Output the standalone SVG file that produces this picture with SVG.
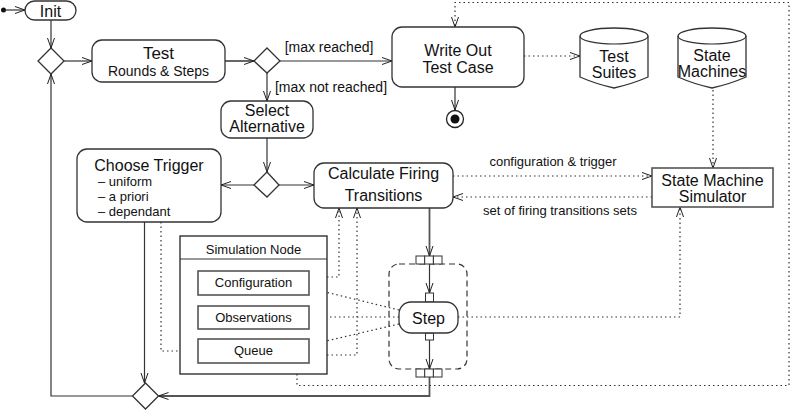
<svg xmlns="http://www.w3.org/2000/svg" width="790" height="411" viewBox="0 0 790 411">
<defs>
<style>
text{font-family:"Liberation Sans",Arial,sans-serif;fill:#111;text-anchor:middle}
.n{fill:#fff;stroke:#333;stroke-width:1.3}
.b{fill:#fff;stroke:#555;stroke-width:1.6}
.f{fill:none;stroke:#333;stroke-width:1.2}
.t{fill:none;stroke:#555;stroke-width:1.8}
.d{fill:none;stroke:#333;stroke-width:1.2;stroke-dasharray:1.5 3}
.dash{fill:none;stroke:#333;stroke-width:1.2;stroke-dasharray:6 4}
.l{font-size:16px}
.s{font-size:13px}
.m{font-size:14px}
</style>
<marker id="a" markerWidth="12" markerHeight="10" refX="10" refY="4" orient="auto" markerUnits="userSpaceOnUse"><path d="M0,0.5 L10,4 L0,7.5" fill="none" stroke="#222" stroke-width="1"/></marker>
</defs>

<g id="connectors">
<circle cx="3.5" cy="10" r="2.5" fill="#111"/>
<path class="f" d="M5,10 H25" marker-end="url(#a)"/>
<path class="f" d="M51,20 V48" marker-end="url(#a)"/>
<path class="f" d="M64,61 H92" marker-end="url(#a)"/>
<path class="t" d="M225,61 H254" marker-end="url(#a)"/>
<path class="f" d="M280,61 H392" marker-end="url(#a)"/>
<text class="m" x="329" y="52">[max reached]</text>
<path class="f" d="M267,73 V101" marker-end="url(#a)"/>
<text class="m" x="331" y="92">[max not reached]</text>
<path class="f" d="M455,87 V110" marker-end="url(#a)"/>
<path class="d" d="M524,56 H580" marker-end="url(#a)"/>
<path class="d" d="M713,90 V168" marker-end="url(#a)"/>
<path class="f" d="M267,138 V172" marker-end="url(#a)"/>
<path class="f" d="M254,185 H221" marker-end="url(#a)"/>
<path class="f" d="M279,185 H314" marker-end="url(#a)"/>
<path class="d" d="M453,176 H652" marker-end="url(#a)"/>
<text class="s" x="553" y="166">configuration &amp; trigger</text>
<path class="d" d="M652,197 H453" marker-end="url(#a)"/>
<text class="s" x="560" y="215">set of firing transitions sets</text>
<path class="t" d="M429.5,208 V256" marker-end="url(#a)"/>
<path class="f" d="M429.5,264 V293" marker-end="url(#a)"/>
<path class="f" d="M429.5,340 V369" marker-end="url(#a)"/>
<path class="t" d="M429.5,377 V396 H158.5" marker-end="url(#a)"/>
<path class="f" d="M132.5,396 H51 V74" marker-end="url(#a)"/>
<path class="f" d="M144.5,222 V383" marker-end="url(#a)"/>
<path class="d" d="M161,222 V351 H198" marker-end="url(#a)"/>
<path class="d" d="M309,277 H339 V208" marker-end="url(#a)"/>
<path class="d" d="M309,355 H357 V208" marker-end="url(#a)"/>
<path class="d" d="M399,310 L309,288" marker-end="url(#a)"/>
<path class="d" d="M399,317 H309" marker-end="url(#a)"/>
<path class="d" d="M399,324 L309,345" marker-end="url(#a)"/>
<path class="d" d="M458,317 H680 V207" marker-end="url(#a)"/>
<path class="d" d="M297,329 V385.5 H789 V2.5 H455 V27" marker-end="url(#a)"/>
</g>

<g id="init"><rect class="n" x="25" y="1" width="51" height="19" rx="9.5"/><text class="l" x="50.5" y="17">Init</text></g>
<g id="d1"><polygon class="n" points="51,48 64,61 51,74 38,61"/></g>
<g id="test"><rect class="n" x="92" y="40" width="133" height="42" rx="10"/><text x="158.5" y="59" style="font-size:17px">Test</text><text class="m" x="158.5" y="76">Rounds &amp; Steps</text></g>
<g id="d2"><polygon class="n" points="267,48 280,61 267,73 254,61"/></g>
<g id="writeout"><rect class="n" x="392" y="27" width="132" height="60" rx="10"/><text class="l" x="458" y="56">Write Out</text><text class="l" x="458" y="73">Test Case</text></g>
<g id="final"><circle cx="455" cy="119" r="8.5" fill="#fff" stroke="#222" stroke-width="1.3"/><circle cx="455" cy="119" r="4.5" fill="#111"/></g>
<g id="testsuites"><path class="n" d="M580,36 A34,8 0 0 1 648,36 V77 Q632,84 614,88 Q596,84 580,77 Z"/><path class="f" d="M580,36 A34,8 0 0 0 648,36"/><text class="l" x="614" y="62">Test</text><text class="l" x="614" y="78">Suites</text></g>
<g id="statemachines"><path class="n" d="M678,36 A34,8 0 0 1 746,36 V77 Q730,84 712,88 Q694,84 678,77 Z"/><path class="f" d="M678,36 A34,8 0 0 0 746,36"/><text class="l" x="712" y="61">State</text><text class="l" x="712" y="77">Machines</text></g>
<g id="select"><rect class="n" x="221" y="101" width="92" height="37" rx="10"/><text class="l" x="267" y="116">Select</text><text class="l" x="267" y="132">Alternative</text></g>
<g id="d3"><polygon class="n" points="267,172 279,185 267,197 254,185"/></g>
<g id="choose"><rect class="n" x="77" y="149" width="144" height="73" rx="10"/><text class="l" x="149" y="171">Choose Trigger</text><text class="s" x="98" y="186" style="text-anchor:start">– uniform</text><text class="s" x="98" y="201" style="text-anchor:start">– a priori</text><text class="s" x="98" y="216" style="text-anchor:start">– dependant</text></g>
<g id="calc"><rect class="n" x="314" y="163" width="139" height="45" rx="10"/><text class="l" x="383.5" y="179">Calculate Firing</text><text class="l" x="383.5" y="201">Transitions</text></g>
<g id="simulator"><rect class="b" x="652" y="168" width="121" height="39"/><text class="l" x="712.5" y="186">State Machine</text><text class="l" x="712.5" y="202">Simulator</text></g>
<g id="simnode"><rect fill="#fff" stroke="#222" stroke-width="1.3" x="180" y="236" width="147" height="138"/><path class="f" d="M180,259 H327"/><text class="s" x="253.5" y="254">Simulation Node</text>
<g id="configuration"><rect class="b" x="198" y="271" width="111" height="24"/><text class="s" x="253.5" y="287">Configuration</text></g>
<g id="observations"><rect class="b" x="198" y="306" width="111" height="23"/><text class="s" x="253.5" y="322">Observations</text></g>
<g id="queue"><rect class="b" x="198" y="339" width="111" height="24"/><text class="s" x="253.5" y="355">Queue</text></g>
</g>
<g id="region"><rect class="dash" x="389" y="264" width="78" height="105" rx="10"/>
<g fill="#fff" stroke="#333" stroke-width="1"><rect x="416" y="256" width="8.7" height="8"/><rect x="424.7" y="256" width="8.7" height="8"/><rect x="433.4" y="256" width="8.6" height="8"/>
<rect x="416" y="369" width="8.7" height="8"/><rect x="424.7" y="369" width="8.7" height="8"/><rect x="433.4" y="369" width="8.6" height="8"/></g>
</g>
<g id="step"><rect fill="#fff" stroke="#333" stroke-width="1" x="425.5" y="293" width="8" height="9"/><rect fill="#fff" stroke="#333" stroke-width="1" x="425.5" y="333" width="8" height="7"/><rect class="n" x="399" y="302" width="59" height="31" rx="12"/><text class="l" x="428.5" y="324">Step</text></g>
<g id="d4"><polygon class="n" points="145.5,383 158.5,396 145.5,409 132.5,396"/></g>
</svg>
